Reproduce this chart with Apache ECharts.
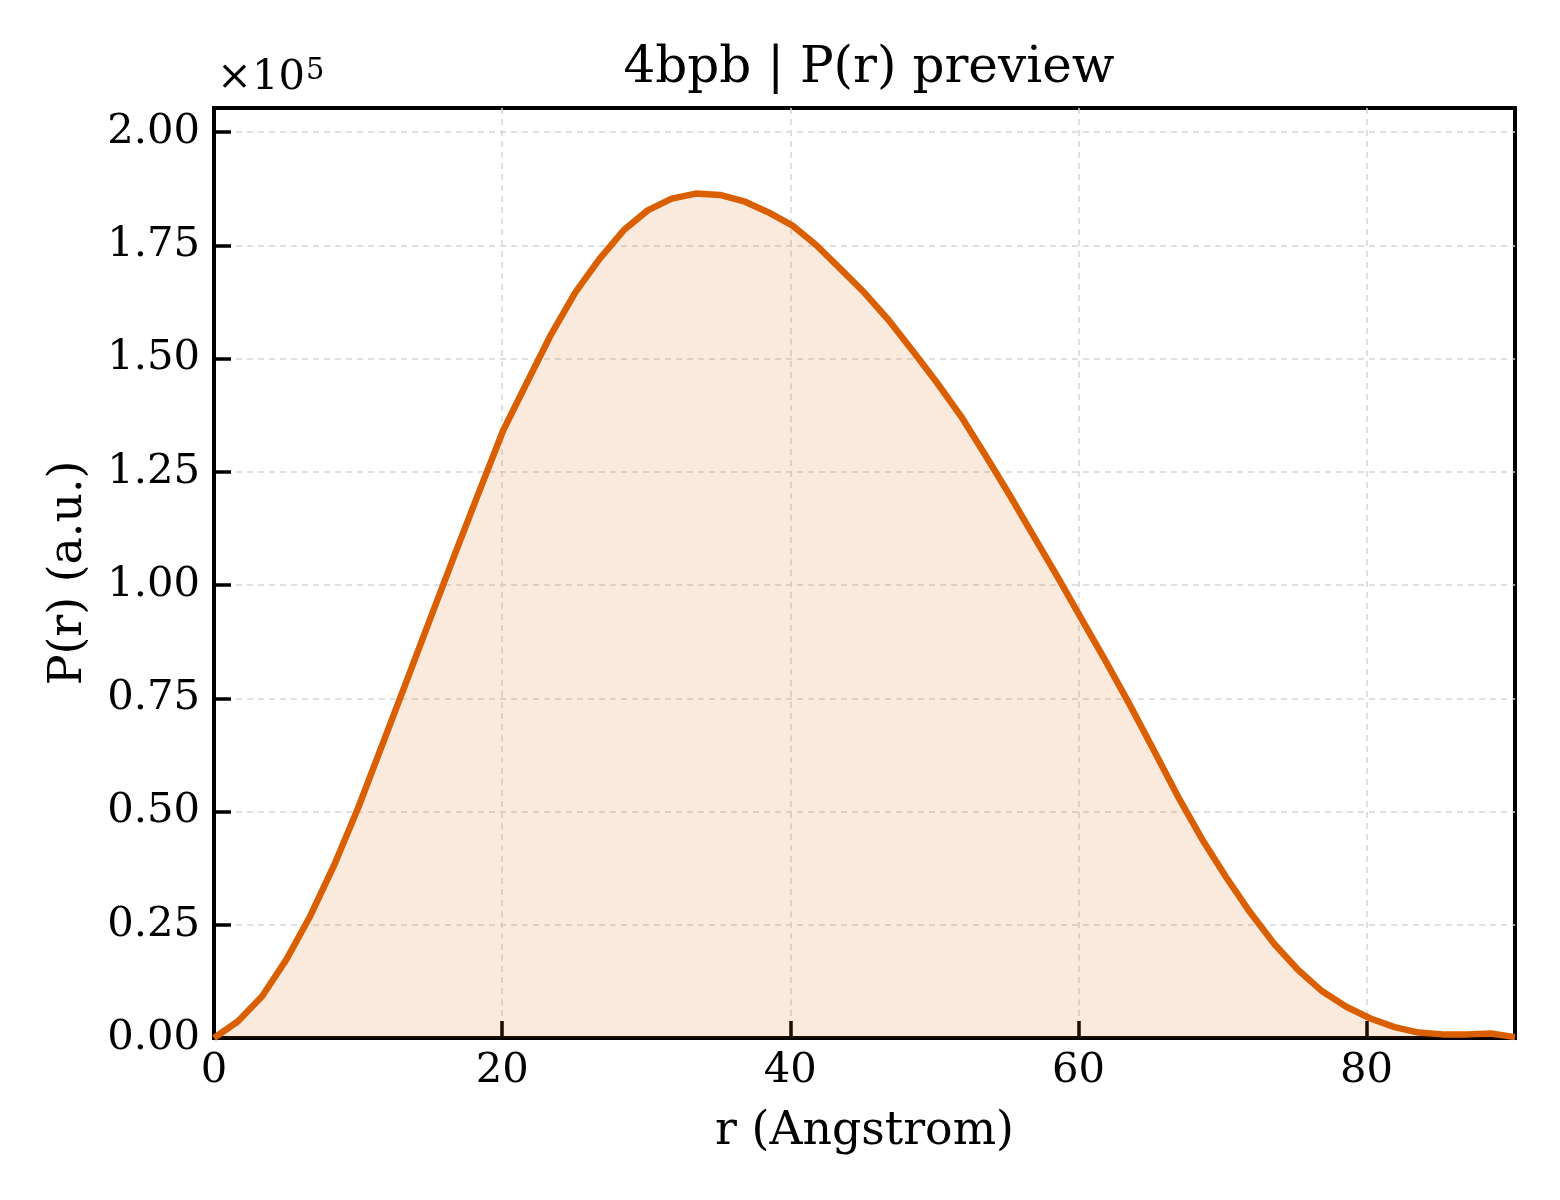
<!DOCTYPE html>
<html>
<head>
<meta charset="utf-8">
<script src="https://cdn.jsdelivr.net/npm/echarts@6/dist/echarts.min.js"></script>
<style>
    html, body { margin: 0; padding: 0; background: #fff; }
    #chart { width: 1560px; height: 1200px; }
</style>
</head>
<body>
<div id="chart"></div>
<script>
// r 坐标 (Angstrom)
let rValues = [
    0.00, 1.67, 3.34, 5.02, 6.69, 8.36, 10.03, 11.71, 13.38, 15.05,
    16.72, 18.39, 20.07, 21.74, 23.41, 25.08, 26.76, 28.43, 30.10, 31.77,
    33.44, 35.12, 36.79, 38.46, 40.13, 41.81, 43.48, 45.15, 46.82, 48.49,
    50.17, 51.84, 53.51, 55.18, 56.85, 58.53, 60.20, 61.87, 63.54, 65.22,
    66.89, 68.56, 70.23, 71.90, 73.58, 75.25, 76.92, 78.59, 80.27, 81.94,
    83.61, 85.28, 86.95, 88.63, 90.30
];

// P(r), a.u.
let prValues = [
    0, 3700, 9200, 17300, 27000, 38300, 51000, 65000, 78900, 92900,
    106800, 120500, 134100, 144800, 155400, 164600, 172000, 178300, 182700, 185300,
    186400, 186100, 184700, 182300, 179400, 175000, 169800, 164500, 158500, 151700,
    144700, 137300, 128800, 120100, 111000, 101900, 92600, 83300, 73700, 63600,
    53400, 44000, 35600, 27800, 20800, 15000, 10300, 6900, 4300, 2400,
    1200, 800, 800, 1000, 200
];

let xTicks = [0, 20, 40, 60, 80];
let yScale = 1e5;

let myChart = echarts.init(document.getElementById('chart'));

let font = 'DejaVu Serif';
let seriesData = rValues.map(function (r, i) {
    return [r, prValues[i]];
});

// 网格虚线, 刻度朝内
let gridLine = { show: true, showMinLine: false, showMaxLine: false, lineStyle: { color: '#d6d6d6', width: 1.5, type: [6, 5] } };
let tickStyle = { show: true, inside: true, length: 17, lineStyle: { color: '#000', width: 3.5 } };

let option = {
    backgroundColor: '#ffffff',
    animation: false,
    title: {
        text: '4bpb | P(r) preview',
        left: 864,
        textAlign: 'center',
        top: 39,
        textStyle: {
            fontFamily: font,
            fontSize: 50,
            fontWeight: 'normal',
            color: '#000'
        }
    },
    grid: {
        left: 214,
        top: 108,
        width: 1301,
        height: 930,
        show: true,
        borderColor: '#000',
        borderWidth: 4,
        containLabel: false
    },
    graphic: [
        {
            type: 'text',
            left: 217,
            top: 57,
            style: {
                text: '{a|×10}{b|5}',
                rich: {
                    a: { fontFamily: font, fontSize: 41.7, fill: '#000' },
                    b: { fontFamily: font, fontSize: 29, fill: '#000', verticalAlign: 'top', padding: [0, 0, 14, 1] }
                }
            }
        }
    ],
    xAxis: {
        type: 'value',
        min: 0,
        max: rValues[rValues.length - 1],
        interval: 20,
        name: 'r (Angstrom)',
        nameLocation: 'middle',
        nameGap: 71,
        nameTextStyle: { fontFamily: font, fontSize: 45.8, color: '#000' },
        axisLine: { show: true, lineStyle: { color: '#000', width: 4 } },
        axisTick: tickStyle,
        axisLabel: {
            fontFamily: font,
            fontSize: 41.7,
            color: '#000',
            margin: 12,
            showMaxLabel: false,
            formatter: function (v) {
                return xTicks.indexOf(v) >= 0 ? String(v) : '';
            }
        },
        splitLine: gridLine
    },
    yAxis: {
        type: 'value',
        min: 0,
        max: 205300,
        interval: 25000,
        name: 'P(r) (a.u.)',
        nameLocation: 'middle',
        nameGap: 122,
        nameTextStyle: { fontFamily: font, fontSize: 45.8, color: '#000' },
        axisLine: { show: true, lineStyle: { color: '#000', width: 4 } },
        axisTick: tickStyle,
        axisLabel: {
            fontFamily: font,
            fontSize: 41.7,
            color: '#000',
            margin: 14,
            showMaxLabel: false,
            formatter: function (v) {
                return (v / yScale).toFixed(2);
            }
        },
        splitLine: gridLine
    },
    series: [
        {
            type: 'line',
            data: seriesData,
            symbol: 'none',
            smooth: false,
            lineStyle: { color: '#d95f02', width: 6.5, join: 'round' },
            areaStyle: { color: '#d95f02', opacity: 0.13 },
            z: 3
        }
    ]
};

myChart.setOption(option);
</script>
</body>
</html>
